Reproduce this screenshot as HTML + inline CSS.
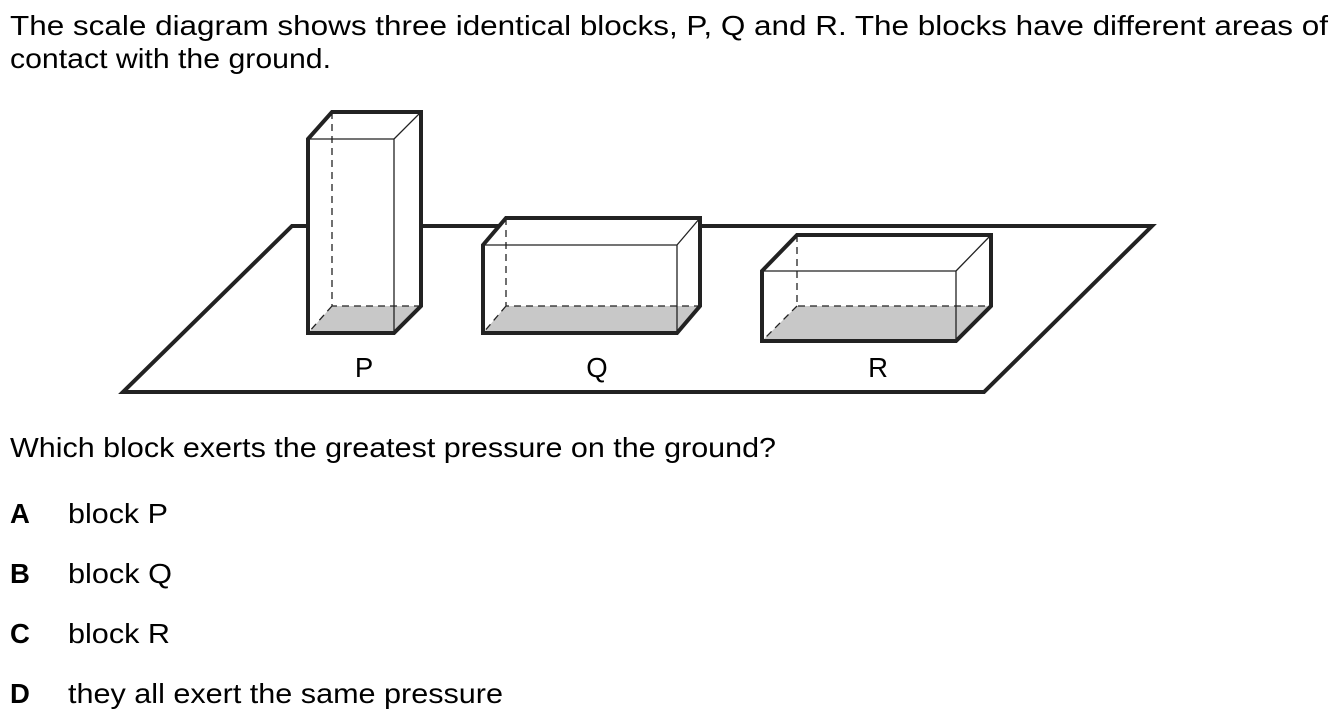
<!DOCTYPE html>
<html><head><meta charset="utf-8"><style>
html,body{margin:0;padding:0;background:#fff;width:1338px;height:721px;overflow:hidden}
svg{display:block}
text{font-family:"Liberation Sans",Arial,sans-serif;font-size:27.5px;fill:#000}
</style></head><body>
<svg width="1338" height="721" viewBox="0 0 1338 721">
<text x="10" y="35" textLength="1318" lengthAdjust="spacingAndGlyphs">The scale diagram shows three identical blocks, P, Q and R. The blocks have different areas of</text>
<text x="10" y="68" textLength="321" lengthAdjust="spacingAndGlyphs">contact with the ground.</text>

<polygon points="292,226 1152,226 984,392 123,392" fill="#fff" stroke="#222" stroke-width="4"/>

<g>
<rect x="308" y="112" width="113" height="221" fill="#fff" stroke="none"/>
<polygon points="308,333 394,333 421,306 332,306" fill="#c8c8c8"/>
<path d="M332,112 V306 H421 M332,306 L308,333" stroke="#222" stroke-width="1.3" stroke-dasharray="7,5" fill="none"/>
<path d="M394,139 V333 M394,139 L421,112" stroke="#222" stroke-width="1.3" fill="none"/>
<polygon points="308,139 332,112 421,112 421,306 394,333 308,333" fill="none" stroke="#222" stroke-width="4" stroke-linejoin="miter"/>
<line x1="308" y1="139" x2="394" y2="139" stroke="#222" stroke-width="1.3"/>
</g>

<g>
<polygon points="483,245 506,218 700,218 700,306 677,333 483,333" fill="#fff"/>
<polygon points="483,333 677,333 700,306 506,306" fill="#c8c8c8"/>
<path d="M506,218 V306 H700 M506,306 L483,333" stroke="#222" stroke-width="1.3" stroke-dasharray="7,5" fill="none"/>
<path d="M483,245 H677 V333 M677,245 L700,218" stroke="#222" stroke-width="1.3" fill="none"/>
<polygon points="483,245 506,218 700,218 700,306 677,333 483,333" fill="none" stroke="#222" stroke-width="4"/>
</g>

<g>
<polygon points="762,271 797,235 991,235 991,306 956,341 762,341" fill="#fff"/>
<polygon points="762,341 956,341 991,306 797,306" fill="#c8c8c8"/>
<path d="M797,235 V306 H991 M797,306 L762,341" stroke="#222" stroke-width="1.3" stroke-dasharray="7,5" fill="none"/>
<path d="M762,271 H956 V341 M956,271 L991,235" stroke="#222" stroke-width="1.3" fill="none"/>
<polygon points="762,271 797,235 991,235 991,306 956,341 762,341" fill="none" stroke="#222" stroke-width="4"/>
</g>

<text x="364" y="377" text-anchor="middle">P</text>
<text x="597" y="377" text-anchor="middle">Q</text>
<text x="878" y="377" text-anchor="middle">R</text>

<text x="10" y="457" textLength="766" lengthAdjust="spacingAndGlyphs">Which block exerts the greatest pressure on the ground?</text>

<g><text x="10" y="523" font-weight="bold">A</text><text x="68" y="523" textLength="100" lengthAdjust="spacingAndGlyphs">block P</text></g>
<g><text x="10" y="583" font-weight="bold">B</text><text x="68" y="583" textLength="104" lengthAdjust="spacingAndGlyphs">block Q</text></g>
<g><text x="10" y="643" font-weight="bold">C</text><text x="68" y="643" textLength="102" lengthAdjust="spacingAndGlyphs">block R</text></g>
<g><text x="10" y="703" font-weight="bold">D</text><text x="68" y="703" textLength="435" lengthAdjust="spacingAndGlyphs">they all exert the same pressure</text></g>
</svg>
</body></html>
